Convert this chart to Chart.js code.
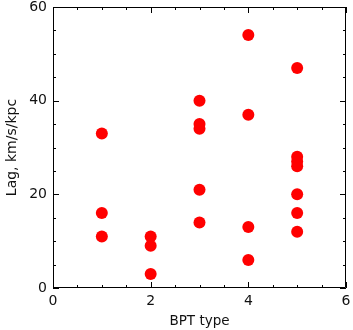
<!DOCTYPE html>
<html>
<head>
<meta charset="utf-8">
<script src="https://cdn.jsdelivr.net/npm/chart.js@4"></script>
<style>
html,body{margin:0;padding:0;background:#fff;}
#wrap{width:353px;height:330px;}
</style>
</head>
<body>
<div id="wrap"><canvas id="c" width="353" height="330"></canvas></div>
<script>
const bptType = [1,1,1, 2,2,2, 3,3,3,3,3, 4,4,4,4, 5,5,5,5,5,5,5];
const lagValues = [33,16,11, 11,9,3, 40,35,34,21,14, 54,37,13,6, 47,28,27,26,20,16,12];
const xTicks = [0,2,4,6];
const yTicks = [0,20,40,60];
const xMinorStep = 0.5;
const yMinorStep = 5;

const points = lagValues.map((v,i)=>({x:bptType[i], y:v}));

const boxTicks = {
  id:'boxTicks',
  afterDatasetsDraw(chart){
    const {ctx, chartArea:a, scales:{x,y}} = chart;
    ctx.save();
    ctx.strokeStyle='#000';
    ctx.lineWidth=1;
    ctx.beginPath();
    ctx.rect(Math.round(a.left)+0.5, Math.round(a.top)+0.5, Math.round(a.right-a.left)-1, Math.round(a.bottom-a.top)-1);
    ctx.stroke();
    ctx.beginPath();
    for(let v=x.min; v<=x.max+1e-9; v+=xMinorStep){
      const px=Math.round(x.getPixelForValue(v))+0.5;
      const len = xTicks.includes(Math.round(v*100)/100) ? 6 : 3;
      ctx.moveTo(px,a.bottom); ctx.lineTo(px,a.bottom-len);
      ctx.moveTo(px,a.top); ctx.lineTo(px,a.top+len);
    }
    for(let v=y.min; v<=y.max+1e-9; v+=yMinorStep){
      const py=Math.round(y.getPixelForValue(v))+0.5;
      const len = yTicks.includes(v) ? 6 : 3;
      ctx.moveTo(a.left,py); ctx.lineTo(a.left+len,py);
      ctx.moveTo(a.right,py); ctx.lineTo(a.right-len,py);
    }
    ctx.stroke();
    ctx.restore();
  }
};

const fnt = {family:'DejaVu Sans', size:14};

new Chart(document.getElementById('c'), {
  type:'scatter',
  data:{datasets:[{data:points, backgroundColor:'#ff0000', borderWidth:0, pointRadius:6, pointHoverRadius:6}]},
  options:{
    responsive:false, animation:false, devicePixelRatio:1,
    layout:{padding:{top:7,right:7,left:0,bottom:0}},
    plugins:{legend:{display:false}, tooltip:{enabled:false}},
    scales:{
      x:{type:'linear', min:0, max:6,
        grid:{display:false, drawTicks:false}, border:{display:false},
        afterBuildTicks(s){ s.ticks = xTicks.map(v=>({value:v})); },
        afterFit(s){ s.height = 42; s.paddingLeft = 0; s.paddingRight = 0; },
        ticks:{color:'#111', padding:5, font:fnt, maxRotation:0},
        title:{display:true, text:'BPT type', color:'#111', font:{family:'DejaVu Sans', size:13.5}, padding:{top:0,bottom:0}}
      },
      y:{type:'linear', min:0, max:60,
        grid:{display:false, drawTicks:false}, border:{display:false},
        afterBuildTicks(s){ s.ticks = yTicks.map(v=>({value:v})); },
        afterFit(s){ s.width = 53; s.paddingTop = 0; s.paddingBottom = 0; },
        ticks:{color:'#111', padding:6, font:fnt},
        title:{display:true, text:'Lag, km/s/kpc', color:'#111', font:{family:'DejaVu Sans', size:14}, padding:{top:4,bottom:0}}
      }
    }
  },
  plugins:[boxTicks]
});
</script>
</body>
</html>
